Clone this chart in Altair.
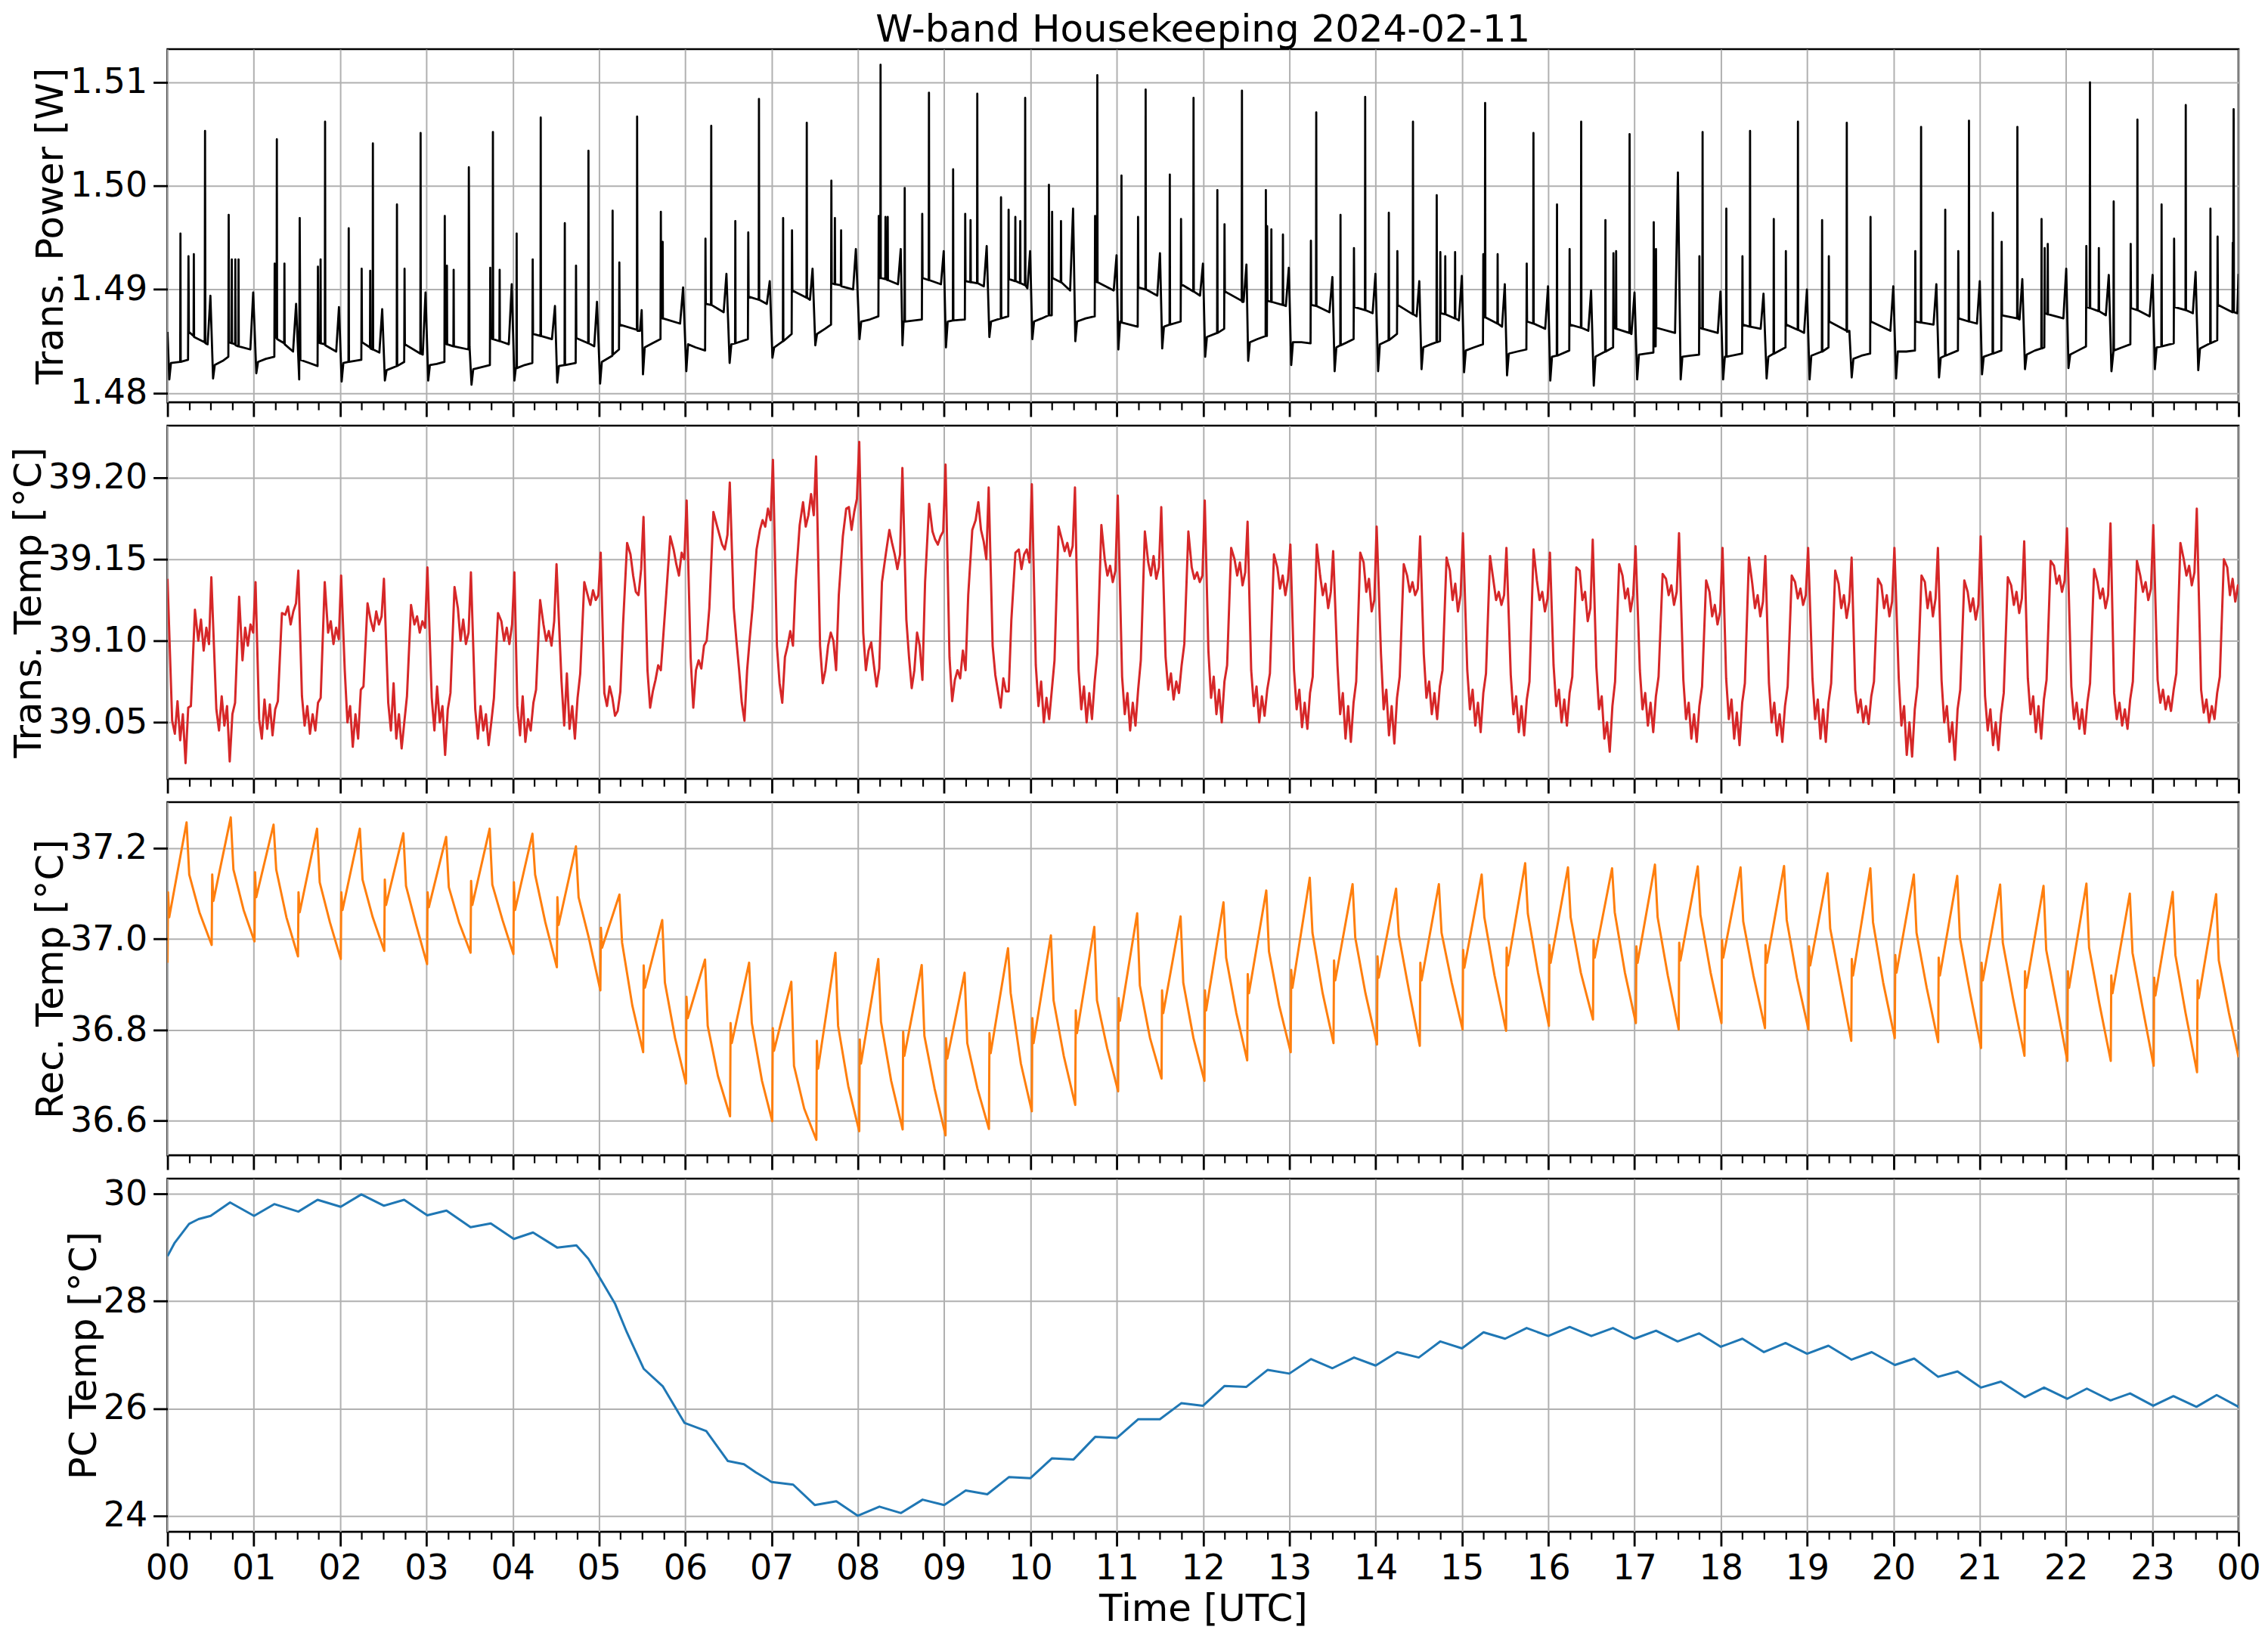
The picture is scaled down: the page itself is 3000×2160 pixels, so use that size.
import altair as alt
import pandas as pd

FONT = "DejaVu Sans"

# ---------------- data ----------------
# Trans. Power [W]: (hour, value) pairs
power_pts = [
(0.000,1.4859),(0.021,1.4813),(0.040,1.4829),(0.147,1.4830),(0.150,1.4954),(0.153,1.4830),(0.238,1.4832),(0.243,1.4932),(0.248,1.4859),(0.302,1.4855),(0.305,1.4934),(0.308,1.4854),(0.431,1.4849),(0.435,1.5053),(0.439,1.4848),(0.465,1.4847),(0.497,1.4894),
(0.528,1.4814),(0.548,1.4827),(0.640,1.4831),(0.705,1.4835),(0.709,1.4972),(0.713,1.4849),(0.742,1.4848),(0.745,1.4929),(0.748,1.4848),(0.783,1.4847),(0.786,1.4929),(0.789,1.4846),(0.820,1.4845),(0.823,1.4929),(0.826,1.4845),(0.960,1.4842),(0.993,1.4897),
(1.029,1.4819),(1.049,1.4830),(1.140,1.4833),(1.238,1.4835),(1.242,1.4925),(1.246,1.4854),(1.264,1.4853),(1.267,1.5045),(1.270,1.4852),(1.352,1.4848),(1.355,1.4925),(1.358,1.4847),(1.455,1.4840),(1.490,1.4886),
(1.526,1.4813),(1.532,1.4969),(1.540,1.4832),(1.640,1.4829),(1.739,1.4826),(1.743,1.4922),(1.747,1.4849),(1.771,1.4848),(1.774,1.4929),(1.777,1.4848),(1.823,1.4847),(1.826,1.5062),(1.829,1.4846),(1.955,1.4840),(1.987,1.4883),
(2.018,1.4811),(2.038,1.4829),(2.097,1.4830),(2.100,1.4959),(2.103,1.4830),(2.246,1.4832),(2.250,1.4920),(2.254,1.4849),(2.346,1.4844),(2.349,1.4918),(2.352,1.4843),(2.377,1.4842),(2.380,1.5041),(2.383,1.4842),(2.455,1.4839),(2.488,1.4881),
(2.519,1.4812),(2.539,1.4822),(2.656,1.4826),(2.659,1.4982),(2.662,1.4826),(2.743,1.4830),(2.747,1.4920),(2.751,1.4847),(2.930,1.4838),(2.933,1.5051),(2.936,1.4838),(2.958,1.4837),(2.990,1.4897),
(3.021,1.4812),(3.041,1.4827),(3.120,1.4828),(3.209,1.4830),(3.213,1.4971),(3.217,1.4848),(3.235,1.4847),(3.238,1.4923),(3.241,1.4847),(3.313,1.4845),(3.316,1.4919),(3.319,1.4845),(3.488,1.4842),(3.492,1.5018),(3.500,1.4845),
(3.523,1.4808),(3.543,1.4823),(3.640,1.4825),(3.736,1.4827),(3.740,1.4921),(3.744,1.4853),(3.768,1.4852),(3.771,1.5052),(3.774,1.4852),(3.846,1.4850),(3.849,1.4919),(3.852,1.4850),(3.955,1.4847),(3.989,1.4905),
(4.020,1.4812),(4.036,1.4824),(4.043,1.4824),(4.046,1.4954),(4.049,1.4824),(4.140,1.4827),(4.228,1.4829),(4.232,1.4929),(4.236,1.4857),(4.322,1.4855),(4.325,1.5066),(4.328,1.4855),(4.455,1.4852),(4.490,1.4884),
(4.516,1.4810),(4.536,1.4826),(4.601,1.4827),(4.604,1.4964),(4.607,1.4827),(4.730,1.4829),(4.734,1.4923),(4.738,1.4853),(4.875,1.4848),(4.878,1.5034),(4.881,1.4848),(4.945,1.4845),(4.977,1.4888),
(5.013,1.4809),(5.033,1.4830),(5.155,1.4836),(5.158,1.4976),(5.161,1.4837),(5.232,1.4842),(5.236,1.4926),(5.240,1.4866),(5.439,1.4861),(5.442,1.5067),(5.446,1.4860),(5.475,1.4860),(5.495,1.4880),
(5.510,1.4818),(5.530,1.4844),(5.620,1.4848),(5.713,1.4852),(5.717,1.4975),(5.721,1.4873),(5.735,1.4872),(5.738,1.4946),(5.741,1.4872),(5.940,1.4867),(5.975,1.4902),
(6.012,1.4821),(6.032,1.4847),(6.120,1.4844),(6.230,1.4841),(6.234,1.4949),(6.238,1.4886),(6.298,1.4885),(6.301,1.5058),(6.304,1.4885),(6.445,1.4878),(6.477,1.4915),
(6.514,1.4829),(6.534,1.4847),(6.577,1.4848),(6.580,1.4966),(6.583,1.4848),(6.726,1.4852),(6.730,1.4955),(6.734,1.4893),(6.851,1.4890),(6.854,1.5084),(6.857,1.4890),(6.945,1.4886),(6.979,1.4908),
(7.010,1.4834),(7.030,1.4844),(7.131,1.4850),(7.134,1.4969),(7.137,1.4850),(7.233,1.4857),(7.237,1.4957),(7.241,1.4899),(7.405,1.4892),(7.408,1.5061),(7.411,1.4892),(7.445,1.4890),(7.475,1.4920),
(7.507,1.4846),(7.527,1.4857),(7.620,1.4862),(7.689,1.4866),(7.693,1.5005),(7.697,1.4906),(7.731,1.4905),(7.734,1.4969),(7.737,1.4905),(7.803,1.4904),(7.806,1.4957),(7.809,1.4903),(7.945,1.4900),(7.977,1.4939),
(8.019,1.4852),(8.039,1.4869),(8.140,1.4871),(8.238,1.4874),(8.242,1.4971),(8.246,1.4911),(8.260,1.4911),(8.263,1.5117),(8.266,1.4911),(8.317,1.4910),(8.320,1.4970),(8.323,1.4910),(8.343,1.4909),(8.346,1.4970),(8.349,1.4909),(8.465,1.4905),(8.497,1.4939),
(8.517,1.4846),(8.530,1.4869),(8.540,1.4869),(8.543,1.4998),(8.546,1.4869),(8.742,1.4871),(8.746,1.4973),(8.750,1.4911),(8.821,1.4909),(8.824,1.5090),(8.827,1.4909),(8.963,1.4905),(8.995,1.4937),
(9.021,1.4844),(9.041,1.4869),(9.101,1.4870),(9.104,1.5016),(9.107,1.4870),(9.240,1.4871),(9.244,1.4973),(9.248,1.4908),(9.303,1.4907),(9.306,1.4967),(9.309,1.4907),(9.381,1.4906),(9.384,1.5089),(9.387,1.4906),(9.460,1.4903),(9.493,1.4942),
(9.524,1.4854),(9.544,1.4869),(9.656,1.4872),(9.659,1.4989),(9.662,1.4872),(9.743,1.4874),(9.747,1.4977),(9.751,1.4910),(9.822,1.4908),(9.825,1.4970),(9.828,1.4908),(9.879,1.4906),(9.882,1.4966),(9.885,1.4906),(9.936,1.4904),(9.939,1.5085),(9.942,1.4904),(9.965,1.4901),(9.996,1.4937),
(10.022,1.4852),(10.042,1.4869),(10.130,1.4872),(10.211,1.4875),(10.214,1.5001),(10.218,1.4875),(10.247,1.4875),(10.251,1.4975),(10.255,1.4911),(10.351,1.4907),(10.354,1.4966),(10.357,1.4907),(10.460,1.4899),(10.494,1.4978),
(10.520,1.4850),(10.540,1.4869),(10.640,1.4872),(10.745,1.4874),(10.749,1.4971),(10.753,1.4908),(10.772,1.4907),(10.775,1.5107),(10.778,1.4907),(10.965,1.4899),(10.998,1.4933),
(11.019,1.4842),(11.039,1.4869),(11.052,1.4869),(11.055,1.5010),(11.058,1.4868),(11.243,1.4864),(11.247,1.4970),(11.251,1.4902),(11.332,1.4900),(11.335,1.5093),(11.338,1.4900),(11.470,1.4894),(11.501,1.4935),
(11.527,1.4843),(11.547,1.4864),(11.612,1.4866),(11.615,1.5011),(11.618,1.4866),(11.741,1.4869),(11.745,1.4968),(11.749,1.4905),(11.887,1.4898),(11.890,1.5085),(11.893,1.4898),(11.965,1.4894),(11.999,1.4925),
(12.025,1.4835),(12.045,1.4854),(12.163,1.4858),(12.166,1.4996),(12.169,1.4858),(12.245,1.4862),(12.249,1.4963),(12.253,1.4898),(12.448,1.4889),(12.451,1.5092),(12.454,1.4888),(12.470,1.4888),(12.503,1.4924),
(12.523,1.4831),(12.543,1.4849),(12.630,1.4852),(12.725,1.4855),(12.728,1.4996),(12.732,1.4855),(12.740,1.4855),(12.743,1.4961),(12.747,1.4889),(12.789,1.4888),(12.792,1.4958),(12.795,1.4888),(12.923,1.4885),(12.926,1.4953),(12.929,1.4885),(12.960,1.4884),(12.994,1.4921),
(13.022,1.4827),(13.042,1.4849),(13.140,1.4849),(13.246,1.4848),(13.250,1.4947),(13.254,1.4885),(13.309,1.4884),(13.312,1.5071),(13.315,1.4884),(13.465,1.4878),(13.499,1.4912),
(13.525,1.4821),(13.545,1.4844),(13.590,1.4846),(13.593,1.4972),(13.596,1.4846),(13.745,1.4852),(13.749,1.4940),(13.753,1.4883),(13.876,1.4880),(13.879,1.5086),(13.882,1.4880),(13.965,1.4877),(13.998,1.4915),
(14.029,1.4821),(14.049,1.4847),(14.150,1.4851),(14.153,1.4974),(14.156,1.4851),(14.248,1.4857),(14.252,1.4937),(14.256,1.4885),(14.430,1.4876),(14.433,1.5062),(14.436,1.4876),(14.475,1.4874),(14.506,1.4908),
(14.532,1.4823),(14.552,1.4844),(14.640,1.4847),(14.705,1.4849),(14.708,1.4991),(14.712,1.4849),(14.746,1.4850),(14.750,1.4936),(14.754,1.4877),(14.804,1.4876),(14.807,1.4932),(14.810,1.4876),(14.918,1.4872),(14.921,1.4936),(14.924,1.4872),(14.965,1.4870),(14.999,1.4913),
(15.025,1.4820),(15.045,1.4841),(15.140,1.4844),(15.244,1.4847),(15.248,1.4934),(15.252,1.4873),(15.266,1.4873),(15.269,1.5080),(15.272,1.4873),(15.411,1.4867),(15.414,1.4934),(15.417,1.4867),(15.465,1.4864),(15.497,1.4905),
(15.523,1.4817),(15.543,1.4838),(15.640,1.4840),(15.747,1.4842),(15.751,1.4925),(15.755,1.4869),(15.826,1.4867),(15.829,1.5051),(15.832,1.4867),(15.965,1.4862),(15.998,1.4903),
(16.024,1.4812),(16.044,1.4835),(16.099,1.4836),(16.102,1.4982),(16.105,1.4836),(16.244,1.4841),(16.248,1.4939),(16.252,1.4866),(16.379,1.4863),(16.382,1.5062),(16.385,1.4863),(16.465,1.4860),(16.497,1.4899),
(16.528,1.4807),(16.548,1.4835),(16.660,1.4840),(16.663,1.4967),(16.666,1.4840),(16.752,1.4844),(16.756,1.4935),(16.760,1.4863),(16.784,1.4862),(16.787,1.4937),(16.790,1.4862),(16.940,1.4858),(16.943,1.5050),(16.946,1.4858),(16.965,1.4857),(17.000,1.4897),
(17.031,1.4813),(17.051,1.4837),(17.140,1.4838),(17.219,1.4839),(17.223,1.4965),(17.227,1.4845),(17.245,1.4845),(17.249,1.4939),(17.253,1.4863),(17.470,1.4858),(17.503,1.5013),
(17.535,1.4813),(17.555,1.4835),(17.650,1.4836),(17.748,1.4837),(17.752,1.4932),(17.756,1.4863),(17.786,1.4862),(17.789,1.5052),(17.792,1.4862),(17.965,1.4858),(17.996,1.4898),
(18.027,1.4813),(18.047,1.4835),(18.061,1.4835),(18.064,1.4978),(18.067,1.4835),(18.247,1.4838),(18.251,1.4932),(18.255,1.4866),(18.336,1.4864),(18.339,1.5053),(18.342,1.4864),(18.462,1.4862),(18.495,1.4896),
(18.531,1.4814),(18.551,1.4835),(18.611,1.4838),(18.614,1.4968),(18.617,1.4838),(18.750,1.4844),(18.754,1.4937),(18.758,1.4866),(18.891,1.4861),(18.894,1.5062),(18.897,1.4861),(18.965,1.4858),(18.998,1.4900),
(19.029,1.4813),(19.049,1.4836),(19.171,1.4840),(19.174,1.4967),(19.177,1.4840),(19.248,1.4844),(19.252,1.4932),(19.256,1.4869),(19.457,1.4860),(19.460,1.5061),(19.463,1.4859),(19.490,1.4860),
(19.517,1.4815),(19.537,1.4833),(19.630,1.4836),(19.731,1.4838),(19.735,1.4970),(19.739,1.4869),(19.965,1.4860),(19.999,1.4903),
(20.031,1.4814),(20.051,1.4840),(20.150,1.4840),(20.250,1.4841),(20.254,1.4937),(20.258,1.4869),(20.318,1.4868),(20.321,1.5057),(20.324,1.4868),(20.465,1.4866),(20.498,1.4905),
(20.529,1.4815),(20.549,1.4834),(20.598,1.4836),(20.601,1.4977),(20.604,1.4836),(20.748,1.4841),(20.752,1.4937),(20.756,1.4872),(20.873,1.4869),(20.876,1.5063),(20.879,1.4869),(20.968,1.4867),(21.001,1.4908),
(21.027,1.4818),(21.047,1.4835),(21.149,1.4838),(21.152,1.4974),(21.155,1.4838),(21.251,1.4841),(21.255,1.4946),(21.259,1.4875),(21.434,1.4872),(21.437,1.5057),(21.440,1.4872),(21.462,1.4871),(21.494,1.4910),
(21.525,1.4823),(21.545,1.4837),(21.640,1.4841),(21.714,1.4843),(21.717,1.4968),(21.720,1.4843),(21.749,1.4844),(21.753,1.4940),(21.757,1.4877),(21.786,1.4876),(21.789,1.4944),(21.792,1.4876),(21.970,1.4872),(22.003,1.4920),
(22.029,1.4824),(22.049,1.4837),(22.140,1.4841),(22.232,1.4845),(22.236,1.4942),(22.240,1.4883),(22.275,1.4882),(22.278,1.5100),(22.281,1.4882),(22.378,1.4879),(22.381,1.4940),(22.384,1.4879),(22.462,1.4875),(22.496,1.4914),
(22.527,1.4821),(22.550,1.4840),(22.553,1.4985),(22.556,1.4841),(22.650,1.4844),(22.746,1.4847),(22.750,1.4944),(22.754,1.4882),(22.825,1.4880),(22.828,1.5064),(22.831,1.4880),(22.970,1.4874),(23.004,1.4914),
(23.030,1.4823),(23.050,1.4844),(23.105,1.4845),(23.108,1.4982),(23.111,1.4845),(23.249,1.4848),(23.253,1.4949),(23.257,1.4883),(23.385,1.4880),(23.388,1.5078),(23.391,1.4880),(23.470,1.4877),(23.502,1.4917),
(23.533,1.4822),(23.553,1.4843),(23.671,1.4848),(23.674,1.4978),(23.677,1.4848),(23.753,1.4851),(23.757,1.4951),(23.761,1.4885),(23.929,1.4878),(23.933,1.4945),(23.938,1.4878),(23.943,1.5074),(23.947,1.4878),(23.985,1.4877),(24.000,1.4915),
]

# Trans. Temp [°C]: 30-minute cycles. Start hour of each cycle, the phases (hours after the
# start) at which values were read, and the values read at those phases.
tt_first = (0.0, 39.138)
tt_start = [0.031, 0.543, 1.039, 1.535, 2.031, 2.535, 3.039, 3.543, 4.031, 4.543, 5.039, 5.539,
            6.039, 6.539, 7.039, 7.539, 8.039, 8.539, 9.039, 9.539, 10.039, 10.535, 11.039, 11.543,
            12.039, 12.535, 13.031, 13.535, 14.039, 14.535, 15.039, 15.543, 16.039, 16.535, 17.039, 17.543,
            18.039, 18.535, 19.039, 19.535, 20.039, 20.535, 21.039, 21.535, 22.039, 22.535, 23.039, 23.543]
tt_phase = [0.023, 0.054, 0.085, 0.116, 0.147, 0.178, 0.209, 0.240, 0.287, 0.326, 0.357, 0.388, 0.419, 0.450, 0.477]
tt_vals = [
[39.051,39.043,39.063,39.039,39.055,39.025,39.059,39.060,39.119,39.100,39.113,39.094,39.108,39.098,39.139],
[39.058,39.045,39.066,39.048,39.060,39.026,39.055,39.062,39.127,39.088,39.108,39.097,39.110,39.105,39.136],
[39.052,39.040,39.064,39.046,39.061,39.042,39.058,39.063,39.117,39.116,39.121,39.110,39.118,39.123,39.143],
[39.066,39.048,39.060,39.043,39.055,39.045,39.062,39.065,39.136,39.105,39.112,39.098,39.108,39.101,39.140],
[39.082,39.050,39.060,39.035,39.055,39.040,39.070,39.072,39.123,39.112,39.106,39.118,39.110,39.115,39.138],
[39.062,39.045,39.074,39.040,39.055,39.034,39.050,39.066,39.122,39.110,39.115,39.105,39.112,39.108,39.145],
[39.065,39.045,39.072,39.050,39.060,39.030,39.058,39.068,39.133,39.120,39.100,39.113,39.098,39.105,39.142],
[39.058,39.040,39.060,39.045,39.055,39.036,39.050,39.065,39.117,39.112,39.100,39.108,39.098,39.110,39.142],
[39.060,39.042,39.066,39.038,39.052,39.045,39.062,39.070,39.125,39.110,39.100,39.106,39.097,39.112,39.147],
[39.075,39.048,39.080,39.046,39.060,39.040,39.065,39.080,39.136,39.128,39.122,39.131,39.125,39.128,39.154],
[39.068,39.060,39.072,39.065,39.054,39.057,39.069,39.110,39.160,39.153,39.140,39.130,39.128,39.144,39.176],
[39.082,39.059,39.069,39.076,39.085,39.082,39.105,39.128,39.164,39.156,39.147,39.140,39.154,39.150,39.186],
[39.090,39.059,39.082,39.088,39.083,39.097,39.100,39.120,39.179,39.171,39.165,39.159,39.156,39.165,39.197],
[39.120,39.100,39.082,39.062,39.051,39.082,39.102,39.120,39.156,39.168,39.174,39.170,39.181,39.174,39.211],
[39.097,39.074,39.062,39.090,39.097,39.106,39.097,39.136,39.171,39.185,39.170,39.177,39.190,39.177,39.213],
[39.097,39.074,39.082,39.097,39.105,39.100,39.082,39.128,39.164,39.181,39.182,39.168,39.179,39.187,39.222],
[39.105,39.082,39.094,39.099,39.085,39.072,39.083,39.136,39.154,39.168,39.160,39.153,39.144,39.153,39.206],
[39.113,39.090,39.071,39.082,39.105,39.097,39.076,39.136,39.184,39.167,39.162,39.159,39.164,39.167,39.208],
[39.090,39.063,39.076,39.082,39.077,39.094,39.082,39.128,39.168,39.174,39.185,39.168,39.161,39.150,39.194],
[39.097,39.079,39.069,39.059,39.077,39.069,39.069,39.113,39.154,39.156,39.144,39.153,39.156,39.148,39.196],
[39.085,39.060,39.075,39.050,39.065,39.052,39.070,39.088,39.170,39.162,39.155,39.160,39.152,39.158,39.194],
[39.082,39.058,39.072,39.050,39.068,39.052,39.075,39.092,39.171,39.150,39.140,39.146,39.136,39.143,39.189],
[39.078,39.055,39.068,39.045,39.062,39.048,39.070,39.088,39.167,39.148,39.140,39.152,39.138,39.145,39.182],
[39.090,39.070,39.080,39.064,39.075,39.068,39.085,39.098,39.167,39.145,39.138,39.142,39.136,39.140,39.186],
[39.094,39.065,39.078,39.055,39.070,39.050,39.075,39.085,39.157,39.150,39.140,39.148,39.134,39.142,39.173],
[39.082,39.060,39.072,39.050,39.066,39.054,39.070,39.080,39.153,39.145,39.132,39.140,39.128,39.138,39.159],
[39.082,39.058,39.070,39.047,39.062,39.046,39.068,39.078,39.159,39.140,39.128,39.135,39.120,39.130,39.155],
[39.085,39.055,39.068,39.040,39.060,39.038,39.062,39.075,39.154,39.148,39.130,39.138,39.118,39.125,39.170],
[39.092,39.058,39.070,39.042,39.060,39.037,39.065,39.078,39.147,39.140,39.130,39.136,39.128,39.132,39.164],
[39.092,39.065,39.075,39.055,39.068,39.052,39.072,39.082,39.151,39.143,39.125,39.135,39.118,39.128,39.166],
[39.082,39.058,39.070,39.048,39.062,39.044,39.068,39.080,39.152,39.137,39.125,39.130,39.122,39.128,39.157],
[39.079,39.055,39.066,39.044,39.060,39.042,39.064,39.075,39.156,39.137,39.125,39.130,39.118,39.126,39.154],
[39.085,39.060,39.070,39.050,39.064,39.048,39.068,39.078,39.145,39.143,39.125,39.130,39.112,39.120,39.162],
[39.084,39.058,39.066,39.040,39.050,39.032,39.060,39.075,39.147,39.140,39.126,39.132,39.118,39.128,39.158],
[39.082,39.058,39.068,39.048,39.062,39.044,39.066,39.078,39.141,39.138,39.128,39.134,39.122,39.130,39.166],
[39.076,39.052,39.062,39.040,39.055,39.038,39.060,39.072,39.137,39.130,39.115,39.122,39.110,39.118,39.157],
[39.077,39.052,39.064,39.040,39.056,39.036,39.062,39.074,39.151,39.135,39.120,39.128,39.115,39.124,39.152],
[39.074,39.050,39.062,39.042,39.055,39.038,39.060,39.072,39.140,39.136,39.126,39.132,39.122,39.128,39.157],
[39.077,39.052,39.064,39.040,39.058,39.038,39.062,39.074,39.143,39.135,39.120,39.128,39.114,39.124,39.151],
[39.070,39.056,39.064,39.050,39.060,39.049,39.066,39.075,39.138,39.134,39.120,39.128,39.115,39.124,39.157],
[39.077,39.048,39.060,39.030,39.050,39.029,39.058,39.072,39.140,39.136,39.120,39.130,39.115,39.126,39.157],
[39.076,39.050,39.060,39.038,39.050,39.027,39.058,39.070,39.137,39.130,39.118,39.126,39.113,39.122,39.164],
[39.066,39.045,39.058,39.036,39.050,39.033,39.055,39.068,39.139,39.134,39.122,39.130,39.117,39.126,39.161],
[39.077,39.055,39.066,39.044,39.060,39.040,39.064,39.076,39.149,39.146,39.135,39.140,39.130,39.137,39.169],
[39.072,39.052,39.062,39.046,39.058,39.043,39.062,39.074,39.144,39.136,39.126,39.132,39.120,39.128,39.172],
[39.068,39.052,39.062,39.048,39.058,39.046,39.064,39.075,39.149,39.140,39.130,39.136,39.125,39.132,39.171],
[39.076,39.062,39.070,39.058,39.066,39.057,39.070,39.080,39.160,39.150,39.140,39.146,39.134,39.142,39.181],
[39.070,39.056,39.064,39.050,39.060,39.052,39.068,39.078,39.150,39.145,39.128,39.138,39.124,39.134,39.134],
]

# Rec. Temp [°C]: sawtooth cycles. Start hour of each cycle, phases, and values read
# (minimum, jump, after jump, peak, after drop, mid decay).
rec_start = [0.000, 0.512, 1.008, 1.512, 2.008, 2.512, 3.008, 3.512, 4.008, 4.512, 5.016, 5.512,
             6.008, 6.519, 7.008, 7.519, 8.016, 8.519, 9.016, 9.519, 10.016, 10.519, 11.016, 11.519,
             12.016, 12.512, 13.016, 13.512, 14.016, 14.512, 15.008, 15.512, 16.008, 16.519, 17.016, 17.512,
             18.008, 18.512, 19.016, 19.512, 20.016, 20.519, 21.016, 21.519, 22.016, 22.519, 23.016, 23.519]
rec_phase = [0.000, 0.006, 0.020, 0.221, 0.252, 0.370]
rec_vals = [
[36.948,37.103,37.048,37.257,37.142,37.059],[36.987,37.142,37.084,37.268,37.153,37.064],
[36.995,37.147,37.092,37.252,37.153,37.048],[36.962,37.103,37.059,37.243,37.125,37.037],
[36.956,37.103,37.064,37.243,37.131,37.048],[36.974,37.131,37.075,37.233,37.117,37.031],
[36.945,37.103,37.070,37.225,37.114,37.037],[36.970,37.128,37.075,37.243,37.120,37.042],
[36.967,37.125,37.064,37.232,37.142,37.037],[36.938,37.092,37.031,37.204,37.092,37.003],
[36.887,37.025,36.981,37.098,36.992,36.854],[36.751,36.942,36.893,37.042,36.904,36.782],
[36.682,36.873,36.826,36.955,36.809,36.699],[36.610,36.815,36.771,36.948,36.815,36.688],
[36.599,36.804,36.754,36.906,36.721,36.627],[36.558,36.776,36.715,36.970,36.809,36.676],
[36.577,36.779,36.726,36.956,36.818,36.688],[36.581,36.796,36.743,36.943,36.787,36.671],
[36.568,36.782,36.737,36.926,36.771,36.671],[36.582,36.793,36.749,36.980,36.881,36.726],
[36.621,36.826,36.771,37.008,36.865,36.743],[36.635,36.843,36.793,37.027,36.865,36.760],
[36.665,36.870,36.820,37.057,36.898,36.782],[36.693,36.887,36.837,37.050,36.904,36.782],
[36.688,36.887,36.843,37.081,36.959,36.837],[36.733,36.923,36.881,37.107,36.973,36.854],
[36.751,36.932,36.893,37.135,37.014,36.881],[36.771,36.953,36.909,37.121,37.003,36.881],
[36.768,36.962,36.915,37.111,37.009,36.887],[36.765,36.948,36.909,37.121,37.014,36.904],
[36.801,36.976,36.937,37.142,37.048,36.920],[36.798,36.981,36.942,37.167,37.056,36.926],
[36.809,36.987,36.948,37.158,37.048,36.926],[36.823,36.998,36.959,37.156,37.059,36.926],
[36.815,36.984,36.948,37.164,37.048,36.920],[36.801,36.992,36.953,37.160,37.053,36.926],
[36.815,36.998,36.959,37.158,37.039,36.920],[36.804,36.987,36.948,37.161,37.042,36.915],
[36.801,36.984,36.942,37.145,37.023,36.904],[36.776,36.956,36.920,37.156,37.037,36.904],
[36.782,36.965,36.926,37.142,37.014,36.893],[36.773,36.959,36.920,37.139,37.003,36.881],
[36.760,36.948,36.909,37.120,36.992,36.870],[36.743,36.929,36.893,37.117,36.976,36.859],
[36.732,36.929,36.893,37.122,36.981,36.859],[36.732,36.920,36.881,37.100,36.970,36.848],
[36.721,36.915,36.876,37.104,36.965,36.837],[36.707,36.909,36.870,37.099,36.953,36.837],
]
rec_last = (24.0, 36.740)

# PC Temp [°C]: (hour, value) pairs at the turning points
pc_pts = [
(0.0,28.84),(0.08,29.08),(0.25,29.44),(0.36,29.53),(0.50,29.59),(0.725,29.84),(1.003,29.59),(1.237,29.81),
(1.516,29.67),(1.739,29.89),(2.007,29.76),(2.246,29.99),(2.508,29.78),(2.742,29.89),(3.010,29.60),(3.233,29.69),
(3.512,29.38),(3.746,29.45),(4.013,29.16),(4.236,29.28),(4.515,29.00),(4.738,29.04),(4.877,28.79),(4.989,28.49),
(5.184,27.96),(5.323,27.42),(5.518,26.74),(5.741,26.41),(5.992,25.73),(6.243,25.58),(6.494,25.02),(6.68,24.96),
(6.817,24.81),(7.0,24.63),(7.25,24.58),(7.5,24.20),(7.75,24.27),(8.0,24.00),(8.25,24.17),(8.5,24.05),
(8.75,24.30),(9.0,24.20),(9.25,24.47),(9.5,24.40),(9.75,24.72),(10.0,24.70),(10.25,25.07),(10.5,25.05),
(10.75,25.47),(11.0,25.45),(11.25,25.80),(11.5,25.80),(11.75,26.10),(12.0,26.05),(12.25,26.42),(12.5,26.40),
(12.75,26.72),(13.0,26.65),(13.25,26.92),(13.5,26.75),(13.75,26.95),(14.0,26.80),(14.25,27.05),(14.5,26.95),
(14.75,27.25),(15.0,27.12),(15.25,27.42),(15.5,27.30),(15.75,27.50),(16.0,27.35),(16.25,27.52),(16.5,27.35),
(16.75,27.50),(17.0,27.30),(17.25,27.45),(17.5,27.25),(17.75,27.40),(18.0,27.15),(18.25,27.30),(18.5,27.05),
(18.75,27.22),(19.0,27.02),(19.247,27.17),(19.515,26.91),(19.749,27.05),(20.017,26.81),(20.241,26.93),(20.519,26.59),
(20.743,26.69),(21.014,26.39),(21.245,26.50),(21.522,26.21),(21.746,26.39),(22.014,26.18),(22.242,26.37),(22.516,26.15),
(22.743,26.28),(23.011,26.05),(23.245,26.23),(23.512,26.03),(23.746,26.25),(24.0,26.03),
]

# axis tick values
x_ticks = [q * 0.25 for q in range(97)]
power_ticks = [1.48, 1.49, 1.50, 1.51]
tt_ticks = [39.05, 39.10, 39.15, 39.20]
rec_ticks = [36.6, 36.8, 37.0, 37.2]
pc_ticks = [24, 26, 28, 30]

# ---------------- tables ----------------
power_df = pd.DataFrame(power_pts, columns=["t", "v"])

tt_rows = [tt_first]
for s, vals in zip(tt_start, tt_vals):
    for ph, v in zip(tt_phase, vals):
        tt_rows.append((round(s + ph, 4), v))
tt_df = pd.DataFrame(tt_rows, columns=["t", "v"])

rec_rows = []
for s, vals in zip(rec_start, rec_vals):
    for ph, v in zip(rec_phase, vals):
        rec_rows.append((round(s + ph, 4), v))
rec_rows.append(rec_last)
rec_df = pd.DataFrame(rec_rows, columns=["t", "v"])

pc_df = pd.DataFrame(pc_pts, columns=["t", "v"])

# ---------------- chart ----------------
W, H = 2745, 468
MAJOR = "datum.value % 1 === 0"
LABEL_EXPR = ("datum.value % 1 !== 0 ? '' : (datum.value % 24 < 10 ? '0' + (datum.value % 24) "
              ": '' + datum.value)")


def x_axis(bottom):
    kw = dict(
        values=x_ticks, grid=True,
        gridOpacity={"condition": {"test": MAJOR, "value": 1}, "value": 0},
        gridColor="#b0b0b0", gridWidth=2,
        tickSize={"condition": {"test": MAJOR, "value": 19}, "value": 10},
        tickWidth={"condition": {"test": MAJOR, "value": 2.8}, "value": 2.2},
        tickColor="black", domain=False,
        labelOverlap=False, labelFlush=False, labelBound=False,
        labelFont=FONT, labelFontSize=46, labelColor="black", labelPadding=8,
        titleFont=FONT, titleFontSize=50, titleFontWeight="normal", titleColor="black",
        titlePadding=6,
    )
    if bottom:
        kw["labelExpr"] = LABEL_EXPR
    else:
        kw["labels"] = False
    return alt.Axis(**kw)


def y_axis(vals, fmt):
    return alt.Axis(
        values=vals, format=fmt, grid=True, gridColor="#b0b0b0", gridWidth=2,
        tickSize=19, tickWidth=2.8, tickColor="black", domain=False,
        labelOverlap=False, labelFlush=False,
        labelFont=FONT, labelFontSize=46, labelColor="black", labelPadding=8,
        titleFont=FONT, titleFontSize=50, titleFontWeight="normal", titleColor="black",
        titlePadding=0,
    )


def panel(df, color, domain, yvals, fmt, ytitle, bottom, width=3.0, title=None):
    x_enc = alt.X("t:Q", scale=alt.Scale(domain=[0, 24], nice=False, zero=False),
                  axis=x_axis(bottom), title="Time [UTC]" if bottom else None)
    y_enc = alt.Y("v:Q", scale=alt.Scale(domain=domain, nice=False, zero=False),
                  axis=y_axis(yvals, fmt), title=ytitle)
    ch = alt.Chart(df).mark_line(color=color, strokeWidth=width, strokeJoin="round",
                                 clip=True).encode(x=x_enc, y=y_enc)
    props = dict(width=W, height=H)
    if title is not None:
        props["title"] = title
    return ch.properties(**props)


title = alt.TitleParams(
    text="W-band Housekeeping 2024-02-11", font=FONT, fontSize=50, fontWeight="normal",
    color="black", anchor="middle", frame="group", offset=0,
)

p1 = panel(power_df, "#000000", [1.4791, 1.5132], power_ticks, ".2f", "Trans. Power [W]",
           False, width=2.8, title=title)
p2 = panel(tt_df, "#d62728", [39.0154, 39.2319], tt_ticks, ".2f", "Trans. Temp [°C]", False)
p3 = panel(rec_df, "#ff7f0e", [36.5241, 37.3014], rec_ticks, ".1f", "Rec. Temp [°C]", False)
p4 = panel(pc_df, "#1f77b4", [23.701, 30.284], pc_ticks, "d", "PC Temp [°C]", True, width=3)

chart = alt.vconcat(p1, p2, p3, p4, spacing=31, bounds="flush").properties(
    padding={"left": 4, "top": 3, "right": 0, "bottom": 0},
    background="white",
).configure(font=FONT).configure_view(stroke="black", strokeWidth=2.6)

chart.save("out.html", embed_options={"renderer": "svg", "actions": False})
